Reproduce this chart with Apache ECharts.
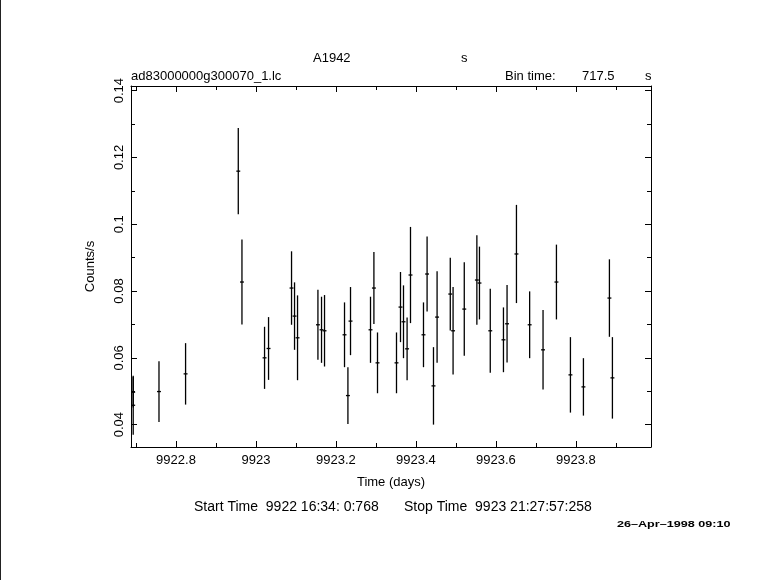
<!DOCTYPE html>
<html>
<head>
<meta charset="utf-8">
<script src="https://cdn.jsdelivr.net/npm/echarts@6/dist/echarts.min.js"></script>
<style>
html,body{margin:0;padding:0;background:#fff;}
#chart{width:781px;height:580px;}
</style>
</head>
<body>
<div id="chart"></div>
<script>
// ---- data ----
const TIMES = [9922.693, 9922.693, 9922.7575, 9922.824, 9922.9558, 9922.965, 9923.0215, 9923.0315,
  9923.089, 9923.0965, 9923.104, 9923.155, 9923.164, 9923.1715, 9923.2215, 9923.230, 9923.2365,
  9923.2865, 9923.295, 9923.304, 9923.3515, 9923.3615, 9923.369, 9923.378, 9923.3865,
  9923.419, 9923.428, 9923.444, 9923.453, 9923.486, 9923.493, 9923.521, 9923.5525, 9923.559,
  9923.586, 9923.619, 9923.628, 9923.6515, 9923.6845, 9923.718, 9923.7515, 9923.7865,
  9923.819, 9923.884, 9923.8915];
const RATES = [0.0497, 0.0458, 0.0499, 0.0552, 0.1159, 0.0827, 0.0600, 0.0628,
  0.0809, 0.0725, 0.0660, 0.0699, 0.0684, 0.0681, 0.0669, 0.0487, 0.0710,
  0.0684, 0.0809, 0.0585, 0.0585, 0.0752, 0.0708, 0.0627, 0.0848,
  0.0669, 0.0851, 0.0516, 0.0722, 0.0791, 0.0681, 0.0746, 0.0833, 0.0824,
  0.0681, 0.0654, 0.0702, 0.0911, 0.0699, 0.0624, 0.0827, 0.0549,
  0.0513, 0.0779, 0.0540];
const ERRS = [0.0046, 0.0088, 0.0091, 0.0092, 0.0129, 0.0127, 0.0093, 0.0094,
  0.0110, 0.0101, 0.0127, 0.0105, 0.0099, 0.0107, 0.0097, 0.0085, 0.0102,
  0.0099, 0.0108, 0.0091, 0.0091, 0.0105, 0.0109, 0.0094, 0.0144,
  0.0097, 0.0112, 0.0116, 0.0137, 0.0109, 0.0131, 0.0140, 0.0134, 0.0109,
  0.0126, 0.0097, 0.0116, 0.0147, 0.0100, 0.0119, 0.0112, 0.0113,
  0.0086, 0.0116, 0.0122];
const BIN_TIME_S = 717.5;
const X_MIN = 9922.6875, X_MAX = 9923.988;
const Y_MIN = 0.0333, Y_MAX = 0.1414;
const X_MAJOR = [9922.8, 9923.0, 9923.2, 9923.4, 9923.6, 9923.8];
const X_MINOR = [9922.7, 9922.9, 9923.1, 9923.3, 9923.5, 9923.7, 9923.9];
const Y_MAJOR = [0.04, 0.06, 0.08, 0.10, 0.12, 0.14];
const Y_MINOR = [0.05, 0.07, 0.09, 0.11, 0.13];
const TITLE = 'A1942';
const TITLE_UNIT = 's';
const FILE_NAME = 'ad83000000g300070_1.lc';
const BIN_LABEL = 'Bin time:';
const BIN_VALUE = '717.5';
const BIN_UNIT = 's';
const X_NAME = 'Time (days)';
const Y_NAME = 'Counts/s';
const START_TEXT = 'Start Time  9922 16:34: 0:768';
const STOP_TEXT = 'Stop Time  9923 21:27:57:258';
const DATE_STAMP = '26\u2013Apr\u20131998 09:10';

const FONT = '"Liberation Sans", Arial, sans-serif';
const BLACK = '#000';
const halfBin = BIN_TIME_S / 86400 / 2;

const chart = echarts.init(document.getElementById('chart'), null, {renderer: 'canvas'});

function xAxisDef(pos, ticks, len, showLine, labels) {
  return {
    type: 'value', position: pos, min: X_MIN, max: X_MAX,
    axisLine: {show: showLine, onZero: false, lineStyle: {color: BLACK, width: 1}},
    axisTick: {show: true, inside: true, length: len, customValues: ticks, lineStyle: {color: BLACK, width: 1}},
    axisLabel: labels ? {show: true, customValues: ticks, color: BLACK, fontFamily: FONT, fontSize: 13, margin: 7,
      formatter: v => String(+(+v).toFixed(1))} : {show: false},
    splitLine: {show: false},
    name: labels ? X_NAME : '', nameLocation: 'middle', nameGap: 29,
    nameTextStyle: {color: BLACK, fontFamily: FONT, fontSize: 13}
  };
}
function yAxisDef(pos, ticks, len, showLine, labels) {
  return {
    type: 'value', position: pos, min: Y_MIN, max: Y_MAX,
    axisLine: {show: showLine, onZero: false, lineStyle: {color: BLACK, width: 1}},
    axisTick: {show: true, inside: true, length: len, customValues: ticks, lineStyle: {color: BLACK, width: 1}},
    axisLabel: labels ? {show: true, customValues: ticks, color: BLACK, fontFamily: FONT, fontSize: 13, margin: 5, rotate: 90,
      formatter: v => String(+(+v).toFixed(2))} : {show: false},
    splitLine: {show: false},
    name: labels ? Y_NAME : '', nameLocation: 'middle', nameGap: 34, nameRotate: 90,
    nameTextStyle: {color: BLACK, fontFamily: FONT, fontSize: 13}
  };
}

const data = TIMES.map((t, i) => [t, RATES[i], ERRS[i]]);

const option = {
  animation: false,
  backgroundColor: '#fff',
  grid: {left: 131, right: 130, top: 86, bottom: 133, containLabel: false},
  xAxis: [
    xAxisDef('bottom', X_MAJOR, 6, true, true),
    xAxisDef('bottom', X_MINOR, 4, false, false),
    xAxisDef('top', X_MAJOR, 6, true, false),
    xAxisDef('top', X_MINOR, 4, false, false)
  ],
  yAxis: [
    yAxisDef('left', Y_MAJOR, 6, true, true),
    yAxisDef('left', Y_MINOR, 4, false, false),
    yAxisDef('right', Y_MAJOR, 6, true, false),
    yAxisDef('right', Y_MINOR, 4, false, false)
  ],
  series: [{
    type: 'custom',
    xAxisIndex: 0, yAxisIndex: 0,
    clip: true,
    data: data,
    renderItem: function (params, api) {
      const t = api.value(0), r = api.value(1), e = api.value(2);
      const top = api.coord([t, r + e]);
      const bot = api.coord([t, r - e]);
      const l = api.coord([t - halfBin, r]);
      const rr = api.coord([t + halfBin, r]);
      const style = {stroke: BLACK, lineWidth: 1.3};
      return {
        type: 'group',
        children: [
          {type: 'line', shape: {x1: top[0], y1: top[1], x2: bot[0], y2: bot[1]}, style: style},
          {type: 'line', shape: {x1: l[0] - 0.3, y1: l[1], x2: rr[0] + 0.3, y2: rr[1]}, style: style}
        ]
      };
    }
  }],
  graphic: [
    {type: 'rect', left: 0, top: 0, shape: {width: 1, height: 580}, style: {fill: '#222'}},
    {type: 'text', left: 313, top: 52, style: {text: TITLE, fill: BLACK, font: '13px ' + FONT}},
    {type: 'text', left: 461, top: 52, style: {text: TITLE_UNIT, fill: BLACK, font: '13px ' + FONT}},
    {type: 'text', left: 131, top: 70, style: {text: FILE_NAME, fill: BLACK, font: '13px ' + FONT}},
    {type: 'text', left: 505, top: 70, style: {text: BIN_LABEL, fill: BLACK, font: '13px ' + FONT}},
    {type: 'text', left: 582, top: 70, style: {text: BIN_VALUE, fill: BLACK, font: '13px ' + FONT}},
    {type: 'text', left: 645, top: 70, style: {text: BIN_UNIT, fill: BLACK, font: '13px ' + FONT}},
    {type: 'text', left: 194, top: 500, style: {text: START_TEXT, fill: BLACK, font: '14px ' + FONT, whiteSpace: 'pre'}},
    {type: 'text', left: 404, top: 500, style: {text: STOP_TEXT, fill: BLACK, font: '14px ' + FONT, whiteSpace: 'pre'}},
    {type: 'text', x: 617, y: 520, scaleX: 1.4, style: {text: DATE_STAMP, fill: BLACK, font: 'bold 9px ' + FONT}}
  ]
};
chart.setOption(option);
</script>
</body>
</html>
